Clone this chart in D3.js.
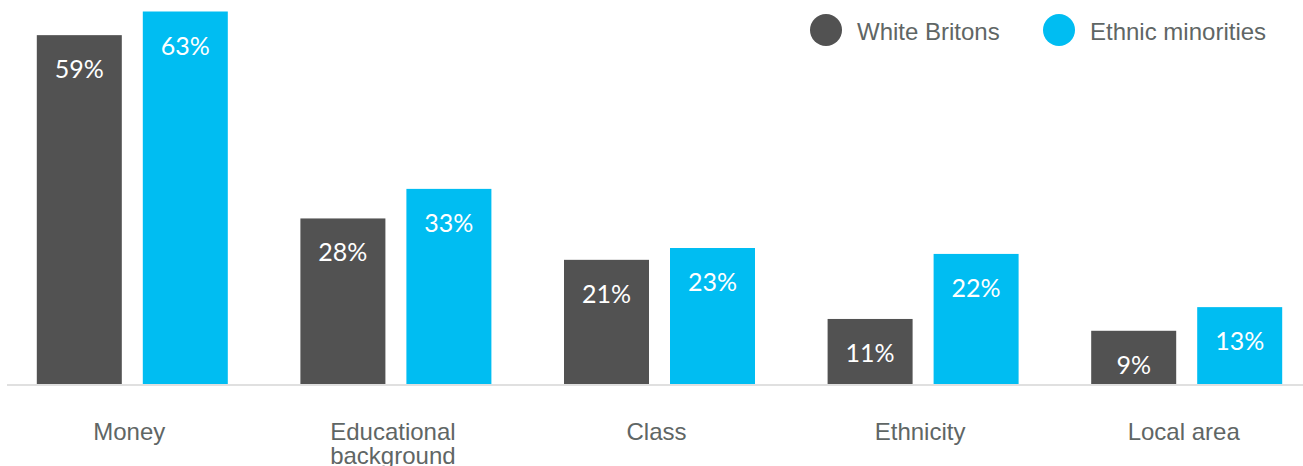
<!DOCTYPE html>
<html>
<head>
<meta charset="utf-8">
<script src="https://cdn.jsdelivr.net/npm/d3@7"></script>
<style>
  html, body { margin: 0; padding: 0; background: #ffffff; }
  svg { display: block; }
</style>
</head>
<body>
<svg id="chart" width="1303" height="466"></svg>
<script>
// Categories and series
const categories = ["Money", "Educational background", "Class", "Ethnicity", "Local area"];
const categoryLines = [["Money"], ["Educational", "background"], ["Class"], ["Ethnicity"], ["Local area"]];
const seriesNames = ["White Britons", "Ethnic minorities"];
const whiteBritons = [59, 28, 21, 11, 9];
const ethnicMinorities = [63, 33, 23, 22, 13];
const seriesColors = ["#525252", "#00bdf2"];

const svg = d3.select("#chart");
const W = 1303, H = 466;
const baseline = 384;

const y = d3.scaleLinear().domain([0, 63]).range([baseline, baseline - 372.5]);

const x0 = d3.scaleBand().domain(categories).range([0.5, 1318.5]).padding(0);
const groupWidth = 191;
const x1 = d3.scaleBand().domain(seriesNames).range([0, groupWidth]).paddingInner(21 / 106).paddingOuter(0);

const rows = categories.map((c, i) => ({
  cat: c,
  values: [whiteBritons[i], ethnicMinorities[i]]
}));

const groups = svg.append("g").selectAll("g")
  .data(rows)
  .join("g")
  .attr("transform", d => `translate(${x0(d.cat) + (x0.bandwidth() - groupWidth) / 2},0)`);

groups.selectAll("rect")
  .data(d => d.values.map((v, j) => ({ v, s: seriesNames[j], j })))
  .join("rect")
  .attr("x", d => x1(d.s))
  .attr("y", d => y(d.v))
  .attr("width", x1.bandwidth())
  .attr("height", d => baseline - y(d.v))
  .attr("fill", d => seriesColors[d.j]);

groups.selectAll("text.val")
  .data(d => d.values.map((v, j) => ({ v, s: seriesNames[j], j })))
  .join("text")
  .attr("class", "val")
  .attr("x", d => x1(d.s) + x1.bandwidth() / 2)
  .attr("y", d => y(d.v) + 33)
  .attr("text-anchor", "middle")
  .attr("dominant-baseline", "central")
  .attr("fill", "#ffffff")
  .style("font-family", "Lato, 'DejaVu Sans', sans-serif")
  .style("font-size", "25px")
  .text(d => d.v + "%");

// Baseline rule
svg.append("line")
  .attr("x1", 7).attr("x2", W)
  .attr("y1", baseline + 1).attr("y2", baseline + 1)
  .attr("stroke", "#e0e0e0")
  .attr("stroke-width", 2);

// Category labels
const catText = svg.append("g").selectAll("text")
  .data(categories)
  .join("text")
  .attr("y", 440)
  .attr("text-anchor", "middle")
  .attr("fill", "#5f6665")
  .style("font-family", "'Liberation Sans', Arial, sans-serif")
  .style("font-size", "24px");

catText.each(function(d, i) {
  const t = d3.select(this);
  categoryLines[i].forEach((line, k) => {
    t.append("tspan")
      .attr("x", x0(d) + x0.bandwidth() / 2 - 3)
      .attr("dy", k === 0 ? 0 : 24)
      .text(line);
  });
});

// Legend
const legendX = [826, 1059];
const legend = svg.append("g").selectAll("g")
  .data(seriesNames)
  .join("g")
  .attr("transform", (d, i) => `translate(${legendX[i]},30)`);

legend.append("circle")
  .attr("r", 16)
  .attr("fill", (d, i) => seriesColors[i]);

legend.append("text")
  .attr("x", 31)
  .attr("y", 1)
  .attr("dominant-baseline", "central")
  .attr("fill", "#5f6665")
  .style("font-family", "'Liberation Sans', Arial, sans-serif")
  .style("font-size", "24px")
  .text(d => d);
</script>
</body>
</html>
